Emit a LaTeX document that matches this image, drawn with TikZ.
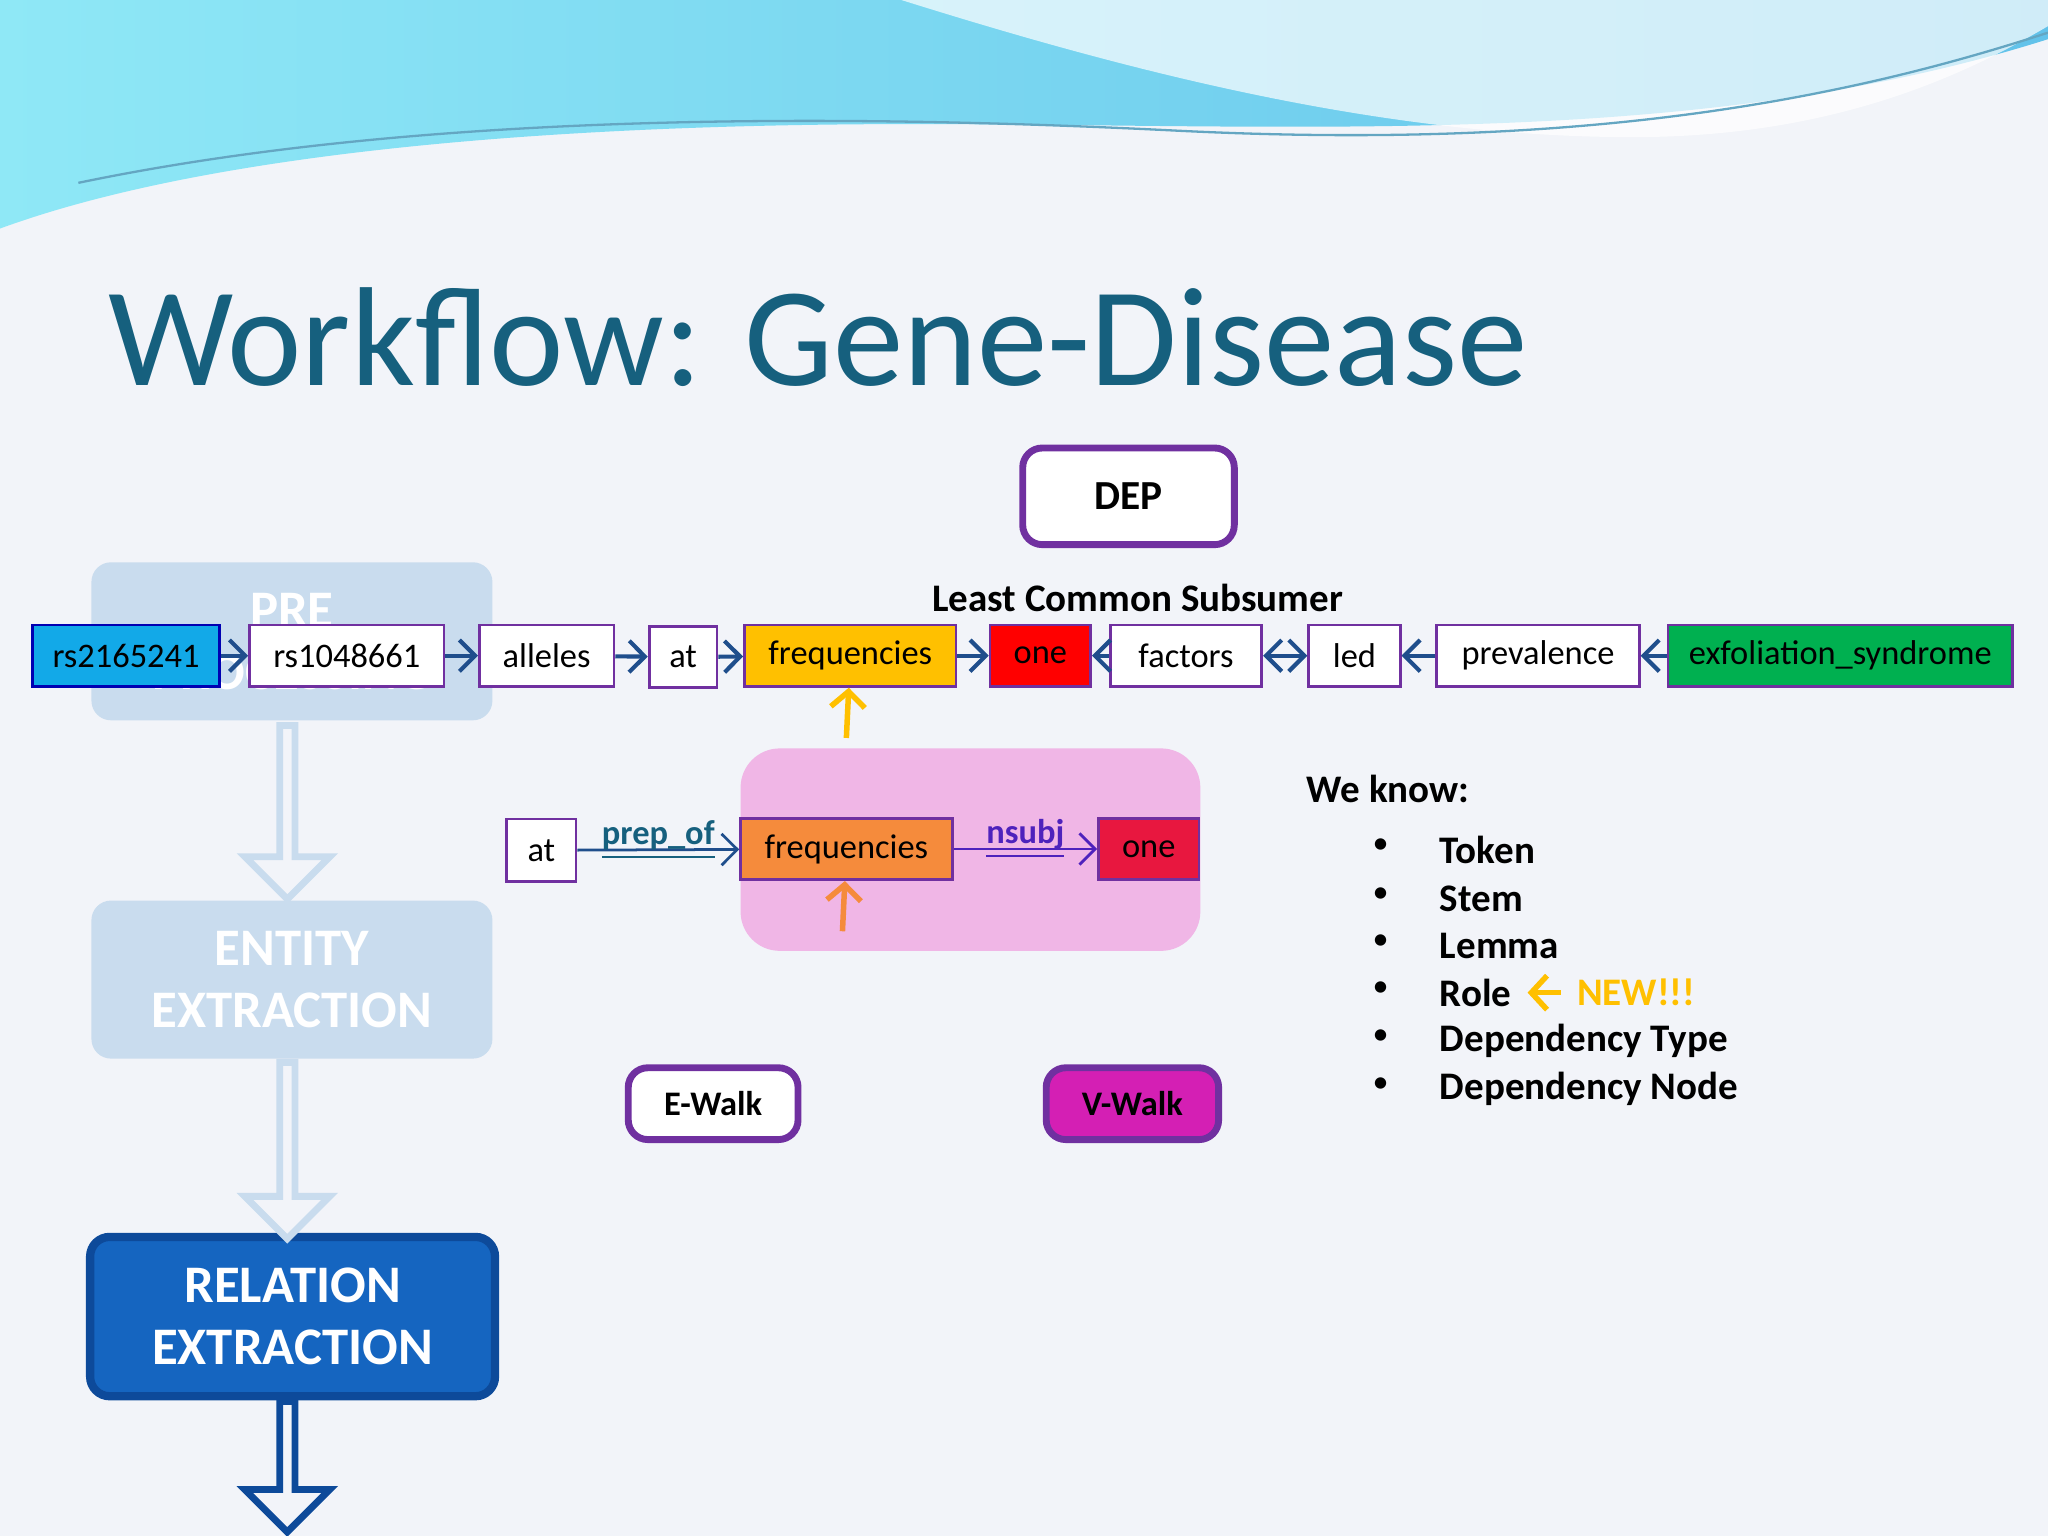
\documentclass[tikz,border=0pt]{standalone}
\usepackage{fontspec}
\setmainfont{Carlito}
\usetikzlibrary{arrows.meta,shapes.arrows}
\definecolor{bgc}{HTML}{F2F4F9}
\definecolor{ttl}{HTML}{16607E}
\definecolor{pur}{HTML}{7030A0}
\definecolor{dblue}{HTML}{1F4E8C}
\definecolor{fade}{HTML}{C9DCEE}
\definecolor{relb}{HTML}{1565C0}
\definecolor{reld}{HTML}{0D4A9A}
\definecolor{gold}{HTML}{FFC000}
\definecolor{cyanb}{HTML}{12A9E8}
\definecolor{grn}{HTML}{00B050}
\definecolor{pink}{HTML}{F0B6E6}
\definecolor{orng}{HTML}{F58B3C}
\definecolor{crim}{HTML}{E8173F}
\definecolor{mag}{HTML}{D41FB4}
\definecolor{wavel}{HTML}{8FE8F6}
\definecolor{waver}{HTML}{62C2EA}
\begin{document}
\begin{tikzpicture}[x=1cm,y=-1cm,
  tok/.style={draw=pur,fill=white,line width=0.6pt,minimum height=0.47cm,inner sep=0pt,font=\fontsize{7.5}{8}\selectfont},
  dep/.style={-{Straight Barb[length=1.2mm,width=2.4mm]},dblue,line width=0.9pt},
  wbox/.style={draw=pur,line width=1.5pt,rounded corners=1.5mm,fill=white,font=\bfseries\fontsize{7.5}{8}\selectfont,minimum height=0.55cm},
  stage/.style={rounded corners=1.5mm,minimum width=3.07cm,minimum height=1.21cm,align=center,font=\bfseries\fontsize{11.5}{13.5}\selectfont,text=white},
  hollow/.style={single arrow,draw=fade,line width=1.5pt,fill=bgc,minimum width=0.65cm,single arrow head extend=0.12cm,single arrow tip angle=90,shape border rotate=270,inner sep=0pt},
  bl/.style={anchor=west,font=\bfseries\fontsize{8.5}{10}\selectfont}]
\useasboundingbox (0,0) rectangle (15.68,11.76);
\fill[bgc] (0,0) rectangle (15.68,11.76);
% top wave
\shade[left color=wavel,right color=waver] (0,0) -- (0,1.75) .. controls (1.5,1.2) and (4,0.95) .. (7,0.95) .. controls (10,0.95) and (13,1.15) .. (15.68,0.3) -- (15.68,0) -- cycle;
\fill[white,opacity=0.7] (6.9,0) .. controls (8.5,0.5) and (10.5,1.05) .. (12.5,1.05) .. controls (14,1.05) and (15,0.6) .. (15.68,0.2) -- (15.68,0) -- cycle;
\draw[cyan!50!gray,line width=0.5pt] (0.6,1.4) .. controls (3,0.9) and (6,0.85) .. (9,1.0) .. controls (12,1.15) and (14,0.8) .. (15.68,0.25);
% title
\node[anchor=base west,text=ttl,font=\fontsize{30.7}{34}\selectfont,inner sep=0pt] (title) at (0.82,2.95) {Workflow: Gene-Disease};
% stages
\node[stage,fill=fade] (pre) at (2.235,4.91) {PRE\\PROCESSING};
\node[stage,fill=fade] (ent) at (2.235,7.5) {ENTITY\\EXTRACTION};
\node[stage,fill=relb,draw=reld,line width=1.8pt,minimum width=3.1cm,minimum height=1.22cm] (rel) at (2.24,10.08) {RELATION\\EXTRACTION};
\node[hollow,minimum height=1.33cm] (a1) at (2.2,6.19) {};
\node[hollow,minimum height=1.35cm] (a2) at (2.2,8.78) {};
\node[hollow,draw=reld,minimum height=1.0cm] (a3) at (2.2,11.2) {};
% DEP
\node[wbox,minimum width=1.62cm,minimum height=0.74cm,font=\bfseries\fontsize{9}{10}\selectfont] (depb) at (8.64,3.8) {DEP};
\node[font=\bfseries\fontsize{8.5}{10}\selectfont] (lcs) at (8.71,4.58) {Least Common Subsumer};
% token row
\node[tok,fill=cyanb,draw=blue!70!black,minimum width=1.43cm] (t1) at (0.965,5.02) {rs2165241};
\node[tok,minimum width=1.49cm] (t2) at (2.655,5.02) {rs1048661};
\node[tok,minimum width=1.03cm] (t3) at (4.185,5.02) {alleles};
\node[tok,minimum width=0.52cm] (t4) at (5.23,5.03) {at};
\node[tok,fill=gold,minimum width=1.62cm] (t5) at (6.51,5.02) {frequencies};
\node[tok,fill=red,minimum width=0.77cm] (t6) at (7.965,5.02) {one};
\node[tok,minimum width=1.16cm] (t7) at (9.08,5.02) {factors};
\node[tok,minimum width=0.7cm] (t8) at (10.37,5.02) {led};
\node[tok,minimum width=1.55cm] (t9) at (11.775,5.02) {prevalence};
\node[tok,fill=grn,minimum width=2.64cm] (t10) at (14.09,5.02) {exfoliation\_syndrome};
\draw[dep] (t1) -- (t2);
\draw[dep] (t2) -- (t3);
\draw[dep] (t3) -- (t4);
\draw[dep] (t4) -- (t5);
\draw[dep] (t5) -- (t6);
\draw[dep] (t7) -- (t6);
\draw[dep,{Straight Barb[length=1.2mm,width=2.4mm]}-{Straight Barb[length=1.2mm,width=2.4mm]}] (t7) -- (t8);
\draw[dep] (t9) -- (t8);
\draw[dep] (t10) -- (t9);
\coordinate (u1) at (6.48,5.65);
\draw[gold,line width=1.2pt,-{Straight Barb[length=1.2mm,width=2.6mm]}] (u1) -- (t5);
% pink group
\node[fill=pink,rounded corners=3mm,minimum width=3.52cm,minimum height=1.55cm] (grp) at (7.43,6.505) {};
\node[tok,minimum width=0.53cm,minimum height=0.48cm] (s1) at (4.145,6.51) {at};
\node[tok,fill=orng,minimum width=1.62cm] (s2) at (6.48,6.5) {frequencies};
\node[tok,fill=crim,minimum width=0.77cm] (s3) at (8.795,6.5) {one};
\draw[dep,line width=0.6pt] (s1) -- node[above,pos=0.5,yshift=-1.2mm,text=ttl,font=\bfseries\fontsize{7.5}{8}\selectfont,inner sep=1pt]{\underline{prep\_of}} (s2);
\draw[dep,line width=0.6pt,draw=pur!70!blue] (s2) -- node[above,pos=0.5,yshift=-1.2mm,text=pur!70!blue,font=\bfseries\fontsize{7.5}{8}\selectfont,inner sep=1pt]{\underline{nsubj}} (s3);
\coordinate (u2) at (6.45,7.13);
\draw[orng,line width=1.2pt,-{Straight Barb[length=1.2mm,width=2.6mm]}] (u2) -- (s2);
% walks
\node[wbox,minimum width=1.3cm] (ew) at (5.46,8.45) {E-Walk};
\node[wbox,fill=mag,minimum width=1.32cm] (vw) at (8.67,8.45) {V-Walk};
% we know
\node[anchor=west,font=\bfseries\fontsize{8.5}{10}\selectfont] (wk) at (9.88,6.04) {We know:};
\foreach \t/\y [count=\i] in {Token/6.51,Stem/6.88,Lemma/7.24,Dependency Type/7.97,Dependency Node/8.34}{
  \node[bl] (k\i) at (10.9,\y) {\t};
  \node[font=\fontsize{7}{8}\selectfont] (b\i) at (10.57,\y-0.03) {•};
}
\node[bl] (role) at (10.9,7.6) {Role};
\node[font=\fontsize{7}{8}\selectfont] (br) at (10.57,7.57) {•};
\node[bl,text=gold] (new) at (11.95,7.6) {NEW!!!};
\draw[gold,line width=1.2pt,-{Straight Barb[length=1.2mm,width=2.6mm]}] (new.west) -- (role.east);
\end{tikzpicture}
\end{document}
